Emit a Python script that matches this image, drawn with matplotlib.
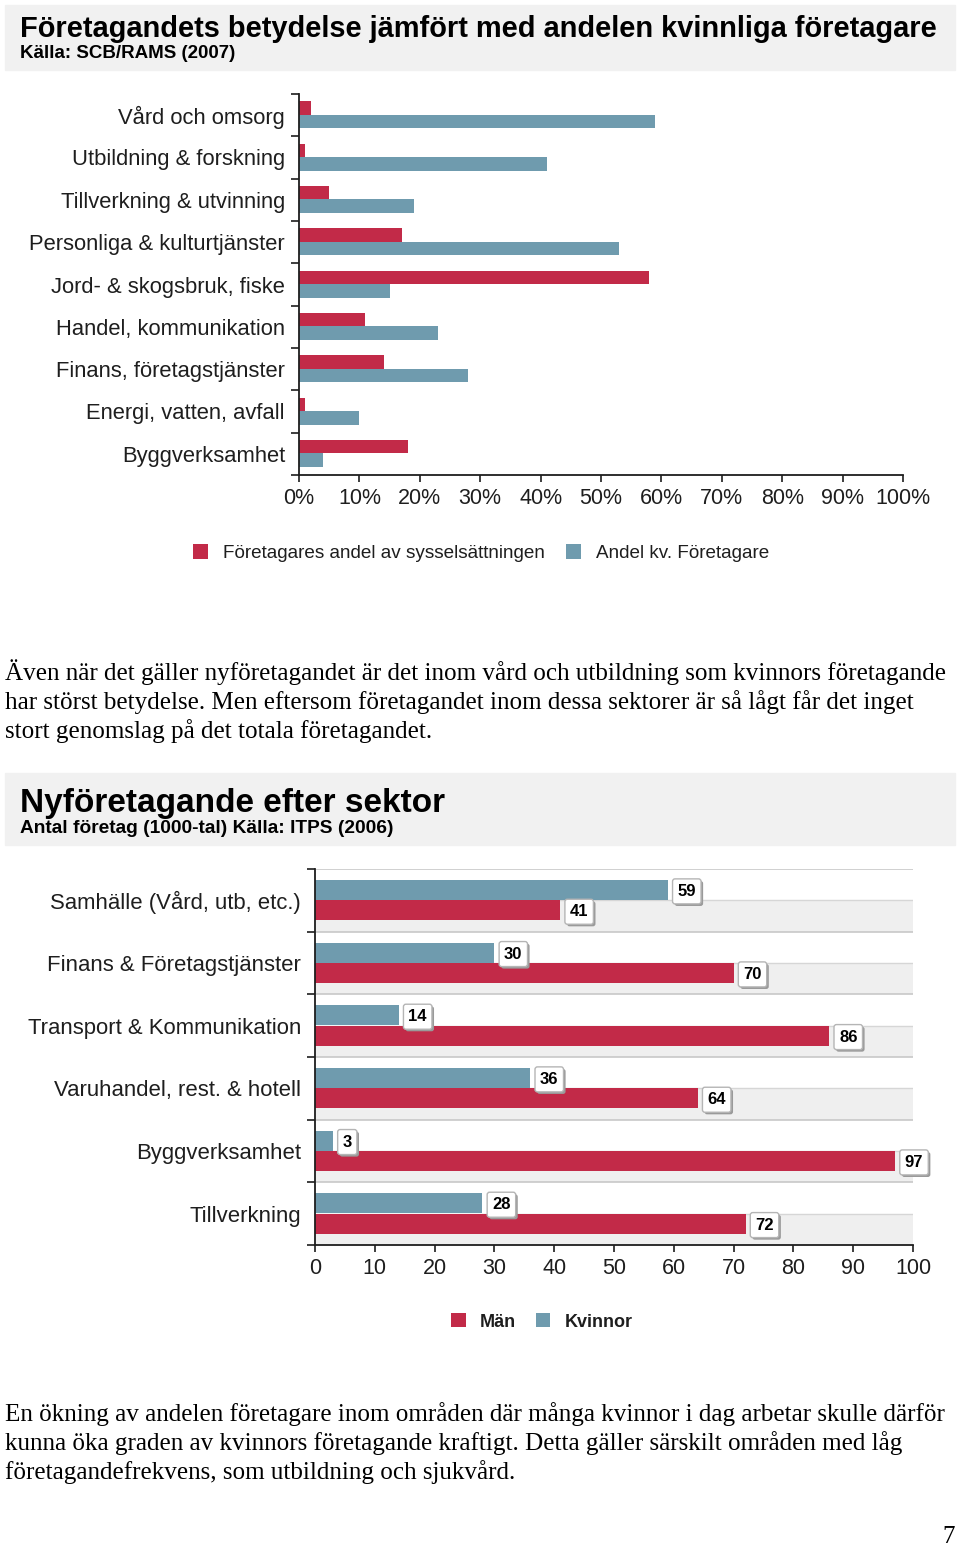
import matplotlib
matplotlib.use("Agg")
import matplotlib.pyplot as plt
import matplotlib.patches as patches
import numpy as np

# Page size in pixels
W, H = 960, 1545
RED = "#c22a48"
BLUE = "#6f9bae"
INK = "#1e1e1e"
SANS = ["Liberation Sans", "DejaVu Sans"]
SERIF = ["Liberation Serif", "DejaVu Serif"]

# Chart 1 data (percent)
sectors_1 = ["Vård och omsorg", "Utbildning & forskning", "Tillverkning & utvinning",
             "Personliga & kulturtjänster", "Jord- & skogsbruk, fiske", "Handel, kommunikation",
             "Finans, företagstjänster", "Energi, vatten, avfall", "Byggverksamhet"]
share_employment = [2, 1, 5, 17, 58, 11, 14, 1, 18]
share_women = [59, 41, 19, 53, 15, 23, 28, 10, 4]
ticks_1 = list(range(0, 101, 10))

# Chart 2 data (1000s of companies)
sectors_2 = ["Samhälle (Vård, utb, etc.)", "Finans & Företagstjänster", "Transport & Kommunikation",
             "Varuhandel, rest. & hotell", "Byggverksamhet", "Tillverkning"]
women_2 = [59, 30, 14, 36, 3, 28]
men_2 = [41, 70, 86, 64, 97, 72]
ticks_2 = list(range(0, 101, 10))

text_1 = ["Även när det gäller nyföretagandet är det inom vård och utbildning som kvinnors företagande",
          "har störst betydelse. Men eftersom företagandet inom dessa sektorer är så lågt får det inget",
          "stort genomslag på det totala företagandet."]
text_2 = ["En ökning av andelen företagare inom områden där många kvinnor i dag arbetar skulle därför",
          "kunna öka graden av kvinnors företagande kraftigt. Detta gäller särskilt områden med låg",
          "företagandefrekvens, som utbildning och sjukvård."]


def fx(x):
    return x / W


def fy(y):
    return 1 - y / H


def box(l, t, r, b):
    return [l / W, 1 - b / H, (r - l) / W, (b - t) / H]


def header(fig, top, bottom):
    fig.add_artist(patches.Rectangle((fx(5), fy(bottom)), 950 / W, (bottom - top) / H,
                                     transform=fig.transFigure, color="#f1f1f1", zorder=0))


def style_axes(ax, n, pad_px):
    ax.set_ylim(n - 0.5, -0.5)
    ax.set_xlim(0, 100)
    for s in ["top", "right"]:
        ax.spines[s].set_visible(False)
    for s in ["left", "bottom"]:
        ax.spines[s].set_linewidth(1.3)
        ax.spines[s].set_color(INK)
    ax.set_yticks(np.arange(-0.5, n, 1), minor=True)
    ax.tick_params(axis="y", which="major", length=0, pad=pad_px * 0.72)
    ax.tick_params(axis="y", which="minor", length=5.5, width=1.2, color=INK)
    ax.tick_params(axis="x", length=5, width=1.2, color=INK, pad=4)
    ax.set_facecolor("none")


fig = plt.figure(figsize=(W / 100, H / 100), dpi=100)
fig.set_facecolor("white")

# ---------------- Chart 1 ----------------
header(fig, 5, 70)
fig.text(fx(20), fy(37), "Företagandets betydelse jämfört med andelen kvinnliga företagare",
         family=SANS, weight="bold", fontsize=20.9, color="black", va="baseline")
fig.text(fx(20), fy(58), "Källa: SCB/RAMS (2007)", family=SANS, weight="bold",
         fontsize=13.5, color="black", va="baseline")

ax1 = fig.add_axes(box(299, 94, 903, 475))
y1 = np.arange(len(sectors_1))
b_emp = ax1.barh(y1 - 0.17, share_employment, height=0.32, color=RED, zorder=2)
b_wom = ax1.barh(y1 + 0.15, share_women, height=0.32, color=BLUE, zorder=2)
style_axes(ax1, len(sectors_1), 14)
ax1.set_yticks(y1, sectors_1, family=SANS, fontsize=15.8, color=INK)
ax1.set_xticks(ticks_1, [f"{v}%" for v in ticks_1], family=SANS, fontsize=15.5, color=INK)
for lbl in ax1.get_yticklabels():
    lbl.set_y(lbl.get_position()[1])

fig.legend([b_emp, b_wom], ["Företagares andel av sysselsättningen", "Andel kv. Företagare"],
           loc="center", bbox_to_anchor=(fx(481), fy(553)), ncol=2, frameon=False,
           prop={"family": SANS, "size": 13.6}, handlelength=0.8, handleheight=0.8,
           handletextpad=0.8, columnspacing=1.1, labelcolor=INK)

for i, line in enumerate(text_1):
    fig.text(fx(5), fy(680 + 29 * i), line, family=SERIF, fontsize=18.1, color="black",
             va="baseline")

# ---------------- Chart 2 ----------------
header(fig, 773, 845)
fig.text(fx(20), fy(812), "Nyföretagande efter sektor", family=SANS, weight="bold",
         fontsize=24, color="black", va="baseline")
fig.text(fx(20), fy(833), "Antal företag (1000-tal) Källa: ITPS (2006)", family=SANS,
         weight="bold", fontsize=13.8, color="black", va="baseline")

ax2 = fig.add_axes(box(315, 869, 913, 1245))
y2 = np.arange(len(sectors_2))
for i in y2:
    ax2.axhspan(i, i + 0.5, color="#efefef", lw=0, zorder=0)
    ax2.axhline(i - 0.5, color="#c8c8c8", lw=1.2, zorder=1)
    ax2.axhline(i, color="#d6d6d6", lw=1, zorder=1)
b_w = ax2.barh(y2 - 0.165, women_2, height=0.32, color=BLUE, zorder=2)
b_m = ax2.barh(y2 + 0.16, men_2, height=0.32, color=RED, zorder=2)
style_axes(ax2, len(sectors_2), 14)
ax2.set_yticks(y2, sectors_2, family=SANS, fontsize=15.9, color=INK)
ax2.set_xticks(ticks_2, [str(v) for v in ticks_2], family=SANS, fontsize=15.5, color=INK)

for bars, vals in [(b_w, women_2), (b_m, men_2)]:
    for rect, v in zip(bars, vals):
        yc = rect.get_y() + rect.get_height() / 2
        # shadow
        ax2.annotate(str(v), xy=(v, yc), xytext=(8.5, -2.5), textcoords="offset points",
                     ha="left", va="center", fontsize=12, weight="bold", family=SANS,
                     color="none", annotation_clip=False, zorder=3,
                     bbox=dict(boxstyle="round,pad=0.3,rounding_size=0.15", fc="#9a9a9a", ec="none"))
        ax2.annotate(str(v), xy=(v, yc), xytext=(7, -1), textcoords="offset points",
                     ha="left", va="center", fontsize=12, weight="bold", family=SANS,
                     color="black", annotation_clip=False, zorder=4,
                     bbox=dict(boxstyle="round,pad=0.3,rounding_size=0.15", fc="white",
                               ec="#b5b5b5", lw=1))

fig.legend([b_m, b_w], ["Män", "Kvinnor"], loc="center", bbox_to_anchor=(fx(542), fy(1322)),
           ncol=2, frameon=False, prop={"family": SANS, "size": 13, "weight": "bold"},
           handlelength=0.8, handleheight=0.8, handletextpad=0.8, columnspacing=1.1,
           labelcolor=INK)

for i, line in enumerate(text_2):
    fig.text(fx(5), fy(1421 + 29 * i), line, family=SERIF, fontsize=18.1, color="black",
             va="baseline")

fig.text(fx(955), fy(1543), "7", family=SERIF, fontsize=18, color="black",
         ha="right", va="baseline")

fig.savefig("out.png", dpi=100)
